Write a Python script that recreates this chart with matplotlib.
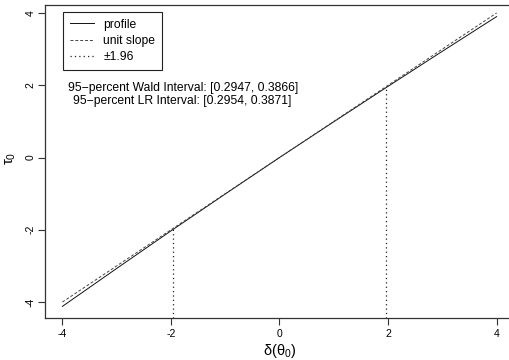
import matplotlib
matplotlib.use("Agg")
import matplotlib.pyplot as plt

# data
delta = [-4, -3, -2, -1, 0, 1, 2, 3, 4]
tau_profile = [-4.12, -3.07, -2.03, -1.01, 0.0, 0.99, 1.97, 2.94, 3.90]
unit_x = [-4, 4]
unit_y = [-4, 4]
ci_x = [-1.96, 1.96]
ci_y = [-1.96, 1.96]
ticks = [-4, -2, 0, 2, 4]
legend_labels = ["profile", "unit slope", "\u00b11.96"]
wald_text = "95\u2212percent Wald Interval: [0.2947, 0.3866]"
lr_text = "95\u2212percent LR Interval: [0.2954, 0.3871]"

plt.rcParams["font.family"] = ["Liberation Sans", "DejaVu Sans"]
plt.rcParams["mathtext.fontset"] = "custom"
plt.rcParams["mathtext.rm"] = "Liberation Sans"
plt.rcParams["mathtext.it"] = "Liberation Sans"
plt.rcParams["axes.unicode_minus"] = False

fig = plt.figure(figsize=(5.1, 3.6), dpi=100)
ax = fig.add_axes([45 / 510, 1 - 318 / 360, 469 / 510, 313 / 360])

lw = 0.7
ax.plot(delta, tau_profile, color="#111111", lw=lw, label=legend_labels[0])
ax.plot(unit_x, unit_y, color="#444444", lw=lw, ls=(0, (3, 2)), label=legend_labels[1])

# limits like R: 4% padding of the profile range
ypad = 0.04 * (max(tau_profile) - min(tau_profile))
ymin = min(tau_profile) - ypad
ax.set_xlim(-4.32, 4.32)
ax.set_ylim(ymin, max(tau_profile) + ypad)

for i in range(2):
    ax.plot([ci_x[i], ci_x[i]], [ymin, ci_y[i]], color="#222222", lw=0.9,
            ls=(0, (1, 2.5)), label=legend_labels[2] if i == 0 else None)

ax.set_xticks(ticks)
ax.set_xticklabels([f"{t:g}" for t in ticks], fontsize=7.5)
ax.set_yticks(ticks)
ax.set_yticklabels([f"{t:g}" for t in ticks], fontsize=7.5, rotation=90, va="center")
ax.tick_params(length=5, width=0.8, color="#333333", pad=3)
ax.tick_params(axis="y", pad=2)
for s in ax.spines.values():
    s.set_color("#333333")
    s.set_linewidth(0.9)

ax.set_xlabel(r"$\delta(\theta_0)$", fontsize=10.5)
ax.set_ylabel(r"$\tau_0$", fontsize=10.5)
ax.xaxis.set_label_coords(0.5, -0.077)
ax.yaxis.set_label_coords(-0.058, 0.51)

leg = ax.legend(loc="upper left", bbox_to_anchor=(63 / 510, 1 - 12 / 360),
                bbox_transform=fig.transFigure, fontsize=8.7, fancybox=False,
                edgecolor="#222222", framealpha=1, handlelength=2.0,
                handletextpad=0.8, labelspacing=0.35, borderpad=0.55,
                borderaxespad=0)
leg.get_frame().set_linewidth(0.8)

ax.text(-1.77, 1.92, wald_text, ha="center", va="center", fontsize=8.7)
ax.text(-1.79, 1.57, lr_text, ha="center", va="center", fontsize=8.7)

fig.savefig("out.png", dpi=100)
